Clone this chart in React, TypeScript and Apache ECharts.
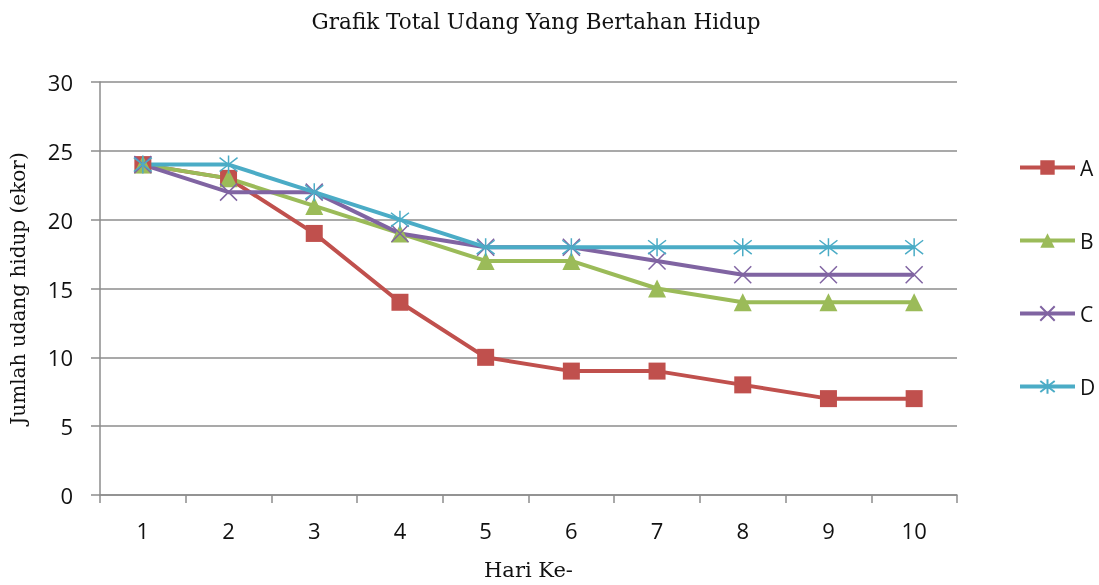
import React, { useEffect, useRef } from "react";
import * as echarts from "echarts";

const days = ["1", "2", "3", "4", "5", "6", "7", "8", "9", "10"];
const seriesA = [24, 23, 19, 14, 10, 9, 9, 8, 7, 7];
const seriesB = [24, 23, 21, 19, 17, 17, 15, 14, 14, 14];
const seriesC = [24, 22, 22, 19, 18, 18, 17, 16, 16, 16];
const seriesD = [24, 24, 22, 20, 18, 18, 18, 18, 18, 18];
const names = ["A", "B", "C", "D"];
const colors = ["#C0504D", "#9BBB59", "#8064A2", "#4BACC6"];

const crossPath = "path://M0,0L10,10M10,0L0,10";
const starPath = "path://M0,0L10,10M10,0L0,10M5,-1.5L5,11.5";

export default function App() {
  const ref = useRef<HTMLDivElement>(null);
  useEffect(() => {
    if (!ref.current) return;
    const chart = echarts.init(ref.current, null, { renderer: "svg" });
    const sans = "'Open Sans', 'Liberation Sans', sans-serif";
    const serif = "'DejaVu Serif', 'Liberation Serif', serif";
    const mk = (i: number, data: number[], symbol: string, size: number, stroke: boolean) => ({
      name: names[i],
      type: "line",
      data,
      symbol,
      symbolSize: size,
      lineStyle: { color: colors[i], width: 4 },
      itemStyle: stroke
        ? { color: "rgba(0,0,0,0)", borderColor: colors[i], borderWidth: 1.5 }
        : { color: colors[i], borderColor: colors[i], borderWidth: 0 },
      emphasis: { disabled: true },
    });
    chart.setOption({
      animation: false,
      title: {
        text: "Grafik Total Udang Yang Bertahan Hidup",
        left: 531,
        textAlign: "center",
        top: 5,
        textStyle: { fontFamily: serif, fontSize: 21.5, fontWeight: "normal", color: "#111" },
      },
      legend: {
        orient: "vertical",
        left: 1013,
        top: 152,
        itemGap: 52,
        itemWidth: 55,
        itemHeight: 18,
        lineStyle: { width: 4 },
        textStyle: { fontFamily: sans, fontSize: 21, lineHeight: 18, color: "#111" },
        data: names,
      },
      grid: { left: 96, right: 142, top: 82, bottom: 85 },
      xAxis: {
        type: "category",
        data: days,
        boundaryGap: true,
        name: "Hari Ke-",
        nameLocation: "middle",
        nameGap: 64,
        nameTextStyle: { fontFamily: serif, fontSize: 21, color: "#111" },
        axisLine: { lineStyle: { color: "#8c8c8c", width: 1.5 } },
        axisTick: { show: true, length: 8, lineStyle: { color: "#8c8c8c", width: 1.5 } },
        axisLabel: { fontFamily: sans, fontSize: 22, color: "#111", margin: 24 },
      },
      yAxis: {
        type: "value",
        min: 0,
        max: 30,
        interval: 5,
        name: "Jumlah udang hidup (ekor)",
        nameLocation: "middle",
        nameGap: 72,
        nameRotate: 90,
        nameTextStyle: { fontFamily: serif, fontSize: 20, color: "#111" },
        axisLine: { show: true, lineStyle: { color: "#8c8c8c", width: 1.5 } },
        axisTick: { show: true, length: 9, lineStyle: { color: "#8c8c8c", width: 1.5 } },
        axisLabel: { fontFamily: sans, fontSize: 22, color: "#111", margin: 27 },
        splitLine: { lineStyle: { color: "#8c8c8c", width: 1.5 } },
      },
      series: [
        mk(0, seriesA, "rect", 17, false),
        mk(1, seriesB, "triangle", 18, false),
        mk(2, seriesC, crossPath, 17, true),
        mk(3, seriesD, starPath, 18, true),
      ],
    });
    return () => chart.dispose();
  }, []);
  return (
    <div
      ref={ref}
      style={{ position: "fixed", left: 0, top: 0, width: 1099, height: 585 }}
    />
  );
}
